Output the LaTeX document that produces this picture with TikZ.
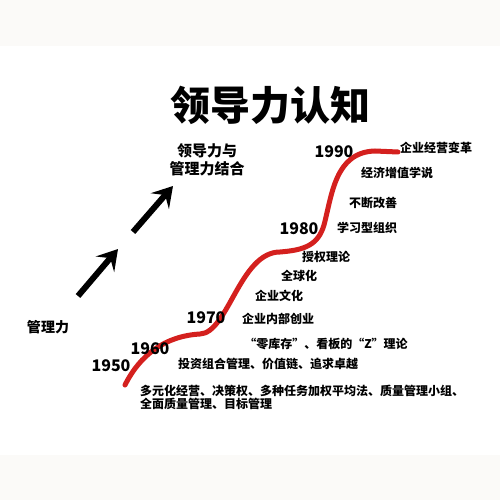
\documentclass[tikz,border=0pt]{standalone}
\usepackage{fontspec}
\usetikzlibrary{arrows.meta}
\newfontfamily\cjk{Noto Sans CJK SC}
\definecolor{bandgrey}{RGB}{251,250,248}
\definecolor{curvered}{RGB}{212,32,30}
\tikzset{
  lbl/.style={inner sep=0pt, font=\cjk\bfseries\fontsize{12}{13}\selectfont},
  yr/.style={inner sep=0pt, font=\cjk\bfseries\fontsize{16}{16}\selectfont},
  bigarrow/.style={line width=6pt, -{Stealth[length=20pt,width=24pt,inset=8pt]}},
}
\begin{document}
\begin{tikzpicture}[x=1pt,y=-1pt]
\useasboundingbox (0,0) rectangle (500,500);
\fill[white] (0,0) rectangle (500,500);
\fill[bandgrey] (0,0) rectangle (500,46);
\fill[bandgrey] (0,455) rectangle (500,500);

% title
\node[inner sep=0pt, font=\cjk\bfseries\fontsize{40}{40}\selectfont] (title) at (270,105) {领导力认知};

% left side
\node[inner sep=0pt, font=\cjk\bfseries\fontsize{14}{14}\selectfont] (mgmt) at (48,327) {管理力};
\node[inner sep=0pt, align=center, font=\cjk\bfseries\fontsize{15}{18}\selectfont] (combo) at (207,160) {领导力与\\管理力结合};

\coordinate (a1s) at (78,296);
\coordinate (a1e) at (118,249);
\coordinate (a2s) at (133,232);
\coordinate (a2e) at (173,186);
\draw[bigarrow] (a1s) -- (a1e);
\draw[bigarrow] (a2s) -- (a2e);

% red curve
\draw[curvered, line width=5pt, line cap=round]
  (125,385) .. controls (140,355) and (165,336) .. (200,334)
  .. controls (228,333) and (240,252) .. (280,252)
  .. controls (305,250) and (318,245) .. (324,225)
  .. controls (332,195) and (335,152) .. (375,151)
  -- (398,152);

% years
\node[yr] (y1950) at (111,366) {1950};
\node[yr] (y1960) at (150,349) {1960};
\node[yr] (y1970) at (206,318) {1970};
\node[yr] (y1980) at (299,229) {1980};
\node[yr] (y1990) at (334,152) {1990};

% labels
\node[lbl] (l1) at (436,148) {企业经营变革};
\node[lbl] (l2) at (397,173) {经济增值学说};
\node[lbl] (l3) at (373,203) {不断改善};
\node[lbl] (l4) at (367,228) {学习型组织};
\node[lbl] (l5) at (326,257) {授权理论};
\node[lbl] (l6) at (299,276) {全球化};
\node[lbl] (l7) at (279,296) {企业文化};
\node[lbl] (l8) at (278,319) {企业内部创业};
\node[lbl] (l9) at (326,344) {“零库存”、看板的“Z”理论};
\node[lbl] (l10) at (268,364) {投资组合管理、价值链、追求卓越};
\node[lbl, align=left, anchor=west] (l11) at (140,397.5) {多元化经营、决策权、多种任务加权平均法、质量管理小组、\\全面质量管理、目标管理};
\end{tikzpicture}
\end{document}
